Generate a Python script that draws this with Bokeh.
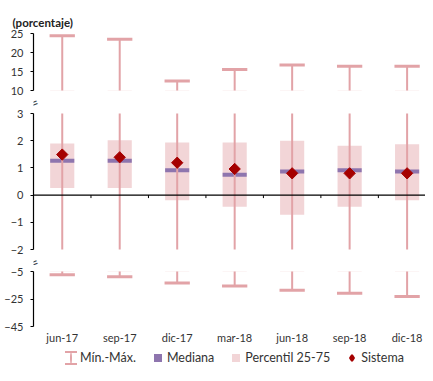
import math
from bokeh.plotting import figure
from bokeh.layouts import column
from bokeh.models import (ColumnDataSource, Range1d, FixedTicker, Span, Label,
                          Legend, LegendItem)
from bokeh.embed import file_html
from bokeh.resources import INLINE

# ---------------- data ----------------
categories = ["jun-17", "sep-17", "dic-17", "mar-18", "jun-18", "sep-18", "dic-18"]
maximo = [24.4, 23.5, 12.5, 15.5, 16.7, 16.4, 16.4]
minimo = [-7.3, -8.9, -13.3, -15.6, -18.6, -20.9, -23.1]
p25 = [0.26, 0.26, -0.19, -0.43, -0.72, -0.43, -0.19]
p75 = [1.90, 2.02, 1.93, 1.93, 2.00, 1.81, 1.87]
mediana = [1.26, 1.26, 0.91, 0.75, 0.87, 0.91, 0.87]
sistema = [1.49, 1.39, 1.19, 0.96, 0.80, 0.80, 0.80]

top_ticks = [10, 15, 20, 25]
mid_ticks = [-2, -1, 0, 1, 2, 3]
bot_ticks = [-45, -25, -5]
top_range = (10, 25)
mid_range = (-2, 3)
bot_range = (-45, -5)

# ---------------- styles ----------------
FONT = "Lato"
WHISKER = "#e2a3a7"
BOX = "#f2d5d7"
MEDIAN = "#8e75ae"
DIAMOND = "#a50000"
TEXT = "#333333"

xpos = list(range(1, len(categories) + 1))
source = ColumnDataSource(dict(x=xpos, cat=categories, maximo=maximo, minimo=minimo,
                               p25=p25, p75=p75, mediana=mediana, sistema=sistema))
bounds = ColumnDataSource(dict(x=[v + 0.5 for v in xpos[:-1]]))

x_range = Range1d(0.5, 7.32)
WIDTH = 425
LEFT = 33


def base_fig(height, x_rng, y_rng, **kw):
    p = figure(width=WIDTH, height=height, x_range=x_rng, y_range=y_rng,
               output_backend="svg", toolbar_location=None, **kw)
    p.outline_line_color = None
    p.grid.visible = False
    p.background_fill_color = "white"
    p.border_fill_color = "white"
    return p


def make_fig(yr, height, btop, bbottom, with_xaxis=False):
    return base_fig(height, x_range, Range1d(*yr),
                    min_border_left=LEFT, min_border_right=0, min_border_top=btop,
                    min_border_bottom=bbottom,
                    x_axis_location="below" if with_xaxis else None)


def style_yaxis(p, ticks):
    ax = p.yaxis[0]
    ax.ticker = FixedTicker(ticks=ticks)
    ax.axis_line_color = "#000000"
    ax.axis_line_width = 1.2
    ax.major_tick_line_color = "#000000"
    ax.major_tick_out = 3
    ax.major_tick_in = 0
    ax.minor_tick_line_color = None
    ax.major_label_text_font = FONT
    ax.major_label_text_font_size = "11px"
    ax.major_label_text_color = TEXT
    ax.major_label_standoff = 7


def draw(p):
    p.vbar(x="x", width=0.42, bottom="p25", top="p75", source=source,
           fill_color=BOX, line_color=None)
    p.rect(x="x", y="mediana", width=0.42, height=4, height_units="screen",
           source=source, fill_color=MEDIAN, line_color=None)
    p.segment(x0="x", y0="minimo", x1="x", y1="maximo", source=source,
              line_color=WHISKER, line_width=2)
    p.rect(x="x", y="maximo", width=0.44, height=3, height_units="screen",
           source=source, fill_color=WHISKER, line_color=None)
    p.rect(x="x", y="minimo", width=0.44, height=3, height_units="screen",
           source=source, fill_color=WHISKER, line_color=None)
    p.scatter(x="x", y="sistema", source=source, marker="square", angle=math.pi / 4,
              size=8, fill_color=DIAMOND, line_color=DIAMOND)


def break_fig(h, yc):
    """Thin strip holding the axis-break mark, drawn on the axis line."""
    b = base_fig(h, Range1d(0, 1), Range1d(0, 1), min_border=0,
                 x_axis_location=None, y_axis_location=None)
    b.add_layout(Label(x=-0.7, y=yc, x_units="screen", y_units="screen", text="=",
                       angle=0.36, text_align="center", text_baseline="middle",
                       text_font="DejaVu Sans", text_font_size="13.5px",
                       text_color="#444444"))
    return b


# ---------------- top segment ----------------
p1 = make_fig(top_range, 96, 33, 6)
style_yaxis(p1, top_ticks)
draw(p1)
p1.title.text = "(porcentaje)"
p1.title.text_font = FONT
p1.title.text_font_style = "bold"
p1.title.text_font_size = "11.5px"
p1.title.text_color = "#222222"
p1.title.align = "left"
p1.title.offset = -21
p1.title.standoff = 9

gap1 = break_fig(11, 5.5)

# ---------------- middle segment ----------------
p2 = make_fig(mid_range, 148, 6, 6)
style_yaxis(p2, mid_ticks)
draw(p2)
p2.add_layout(Span(location=0, dimension="width", line_color="#000000", line_width=1.2))
p2.segment(x0="x", y0=0, x1="x", y1=-0.11, source=bounds, line_color="#000000", line_width=1)

gap2 = break_fig(10, 4.7)

# ---------------- bottom segment ----------------
p3 = make_fig(bot_range, 81, 6, 17, with_xaxis=True)
style_yaxis(p3, bot_ticks)
draw(p3)
xa = p3.xaxis[0]
xa.ticker = FixedTicker(ticks=xpos)
xa.major_label_overrides = {v: c for v, c in zip(xpos, categories)}
xa.axis_line_color = None
xa.major_tick_line_color = None
xa.minor_tick_line_color = None
xa.major_tick_out = 0
xa.major_tick_in = 0
xa.major_label_standoff = 4
xa.major_label_text_font = FONT
xa.major_label_text_font_size = "11px"
xa.major_label_text_color = TEXT

# ---------------- legend strip ----------------
# the series are drawn here outside the strip's visible range; only legend icons show
p4 = base_fig(19, Range1d(0, 1), Range1d(1000, 1001), min_border=0,
              x_axis_location=None, y_axis_location=None)
lg_caps = p4.rect(x="x", y="maximo", width=0.1, height=0.1, source=source,
                  fill_color=None, line_color=WHISKER, line_width=2, line_dash="12 12")
lg_stem = p4.ellipse(x="x", y="maximo", width=4, height=24, width_units="screen",
                     height_units="screen", source=source, fill_color=WHISKER,
                     line_color=None)
lg_med = p4.rect(x="x", y="mediana", width=0.1, height=0.1, source=source,
                 fill_color=MEDIAN, line_color="white", line_width=4)
lg_box = p4.rect(x="x", y="p75", width=0.1, height=0.1, source=source,
                 fill_color=BOX, line_color="white", line_width=4)
lg_sis = p4.scatter(x="x", y="sistema", source=source, marker="diamond", size=6,
                    fill_color=DIAMOND, line_color=DIAMOND, line_width=2)

legend = Legend(items=[
    LegendItem(label="Mín.-Máx.", renderers=[lg_caps, lg_stem]),
    LegendItem(label="Mediana", renderers=[lg_med]),
    LegendItem(label="Percentil 25-75", renderers=[lg_box]),
    LegendItem(label="Sistema", renderers=[lg_sis]),
], orientation="horizontal", location=(30, 0),
    glyph_width=15, glyph_height=15,
    label_standoff=2, spacing=14, padding=0, margin=0, border_line_color=None,
    background_fill_alpha=0, label_text_font=FONT, label_text_font_size="12.5px",
    label_text_color=TEXT)
p4.add_layout(legend)

layout = column(p1, gap1, p2, gap2, p3, p4, spacing=0)
open("out.html", "w").write(file_html(layout, INLINE))
